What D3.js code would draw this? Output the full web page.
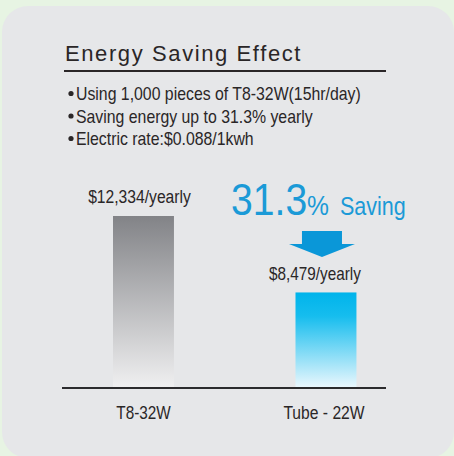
<!DOCTYPE html>
<html>
<head>
<meta charset="utf-8">
<script src="https://cdn.jsdelivr.net/npm/d3@7"></script>
<style>
  html, body { margin: 0; padding: 0; background: #e7f4e3; }
  svg { display: block; }
  text { font-family: "Liberation Sans", Arial, sans-serif; }
</style>
</head>
<body>
<div id="chart"></div>
<script>
// chart data
var categories = ["T8-32W", "Tube - 22W"];
var yearlyCost = [12334, 8479];
var costLabels = ["$12,334/yearly", "$8,479/yearly"];
var bullets = [
  "Using 1,000 pieces of T8-32W(15hr/day)",
  "Saving energy up to 31.3% yearly",
  "Electric rate:$0.088/1kwh"
];
var savingPct = "31.3";

var w = 454, h = 456;
var ink = "#2a2627";

var svg = d3.select("#chart").append("svg")
    .attr("width", w)
    .attr("height", h);

// the artwork uses a condensed face; squeeze a normal one to match
function narrowText(parent, x, y, size, txt, anchor, sx) {
  return parent.append("text")
      .attr("transform", "translate(" + x + "," + y + ") scale(" + (sx || 0.84) + ",1)")
      .attr("font-size", size)
      .attr("text-anchor", anchor || "start")
      .attr("fill", ink)
      .text(txt);
}

// grey panel
svg.append("rect")
    .attr("x", 2).attr("y", 6)
    .attr("width", 452).attr("height", 452)
    .attr("rx", 26).attr("ry", 26)
    .attr("fill", "#e6e7e9");

// gradients for the bars
var defs = svg.append("defs");
var gradColors = [["#828387", "#efeff0"], ["#00b4eb", "#e9f7fd"]];
gradColors.forEach(function (c, i) {
  var g = defs.append("linearGradient")
      .attr("id", "bar" + i)
      .attr("x1", 0).attr("y1", 0).attr("x2", 0).attr("y2", 1);
  g.append("stop").attr("offset", "0%").attr("stop-color", c[0]);
  if (i === 1) g.append("stop").attr("offset", "25%").attr("stop-color", "#16bdee");
  g.append("stop").attr("offset", "100%").attr("stop-color", c[1]);
});

// title
svg.append("text")
    .attr("x", 65).attr("y", 61)
    .attr("font-size", 22)
    .attr("letter-spacing", 1.6)
    .attr("fill", ink)
    .text("Energy Saving Effect");

svg.append("line")
    .attr("x1", 64).attr("x2", 386)
    .attr("y1", 71).attr("y2", 71)
    .attr("stroke", ink)
    .attr("stroke-width", 2);

// bullet lines
var bl = svg.append("g");
bullets.forEach(function (d, i) {
  bl.append("circle")
      .attr("cx", 71)
      .attr("cy", 93.5 + i * 22.5)
      .attr("r", 2.6)
      .attr("fill", ink);
  narrowText(bl, 76, 100 + i * 22.5, 18, d, "start", 0.88);
});

// scales (the artwork is not drawn from zero, so the domain starts above it)
var x = d3.scaleBand()
    .domain(categories)
    .range([58.25, 411.2])
    .paddingInner(0.666)
    .paddingOuter(0.3);

var y = d3.scaleLinear()
    .domain([3711, 12334])
    .range([387, 216]);

// bars
svg.append("g").selectAll("rect")
    .data(yearlyCost)
    .enter().append("rect")
    .attr("x", function (d, i) { return x(categories[i]); })
    .attr("y", function (d) { return y(d); })
    .attr("width", x.bandwidth())
    .attr("height", function (d) { return y.range()[0] - y(d); })
    .attr("fill", function (d, i) { return "url(#bar" + i + ")"; });

// value labels
var labelY = [203, 280];
var labelShift = [-4, -11];
var vl = svg.append("g");
costLabels.forEach(function (d, i) {
  narrowText(vl, x(categories[i]) + x.bandwidth() / 2 + labelShift[i], labelY[i], 18, d, "middle", i === 0 ? 0.87 : 0.85);
});

// baseline
svg.append("line")
    .attr("x1", 62).attr("x2", 386)
    .attr("y1", 388).attr("y2", 388)
    .attr("stroke", "#2b2b2d")
    .attr("stroke-width", 2);

// category labels
var cl = svg.append("g");
categories.forEach(function (d, i) {
  narrowText(cl, x(d) + x.bandwidth() / 2 + (i === 1 ? -2 : 0), 419, 18, d, "middle", i === 1 ? 0.87 : 0.85);
});

// saving callout
var blue = "#1b9ad7";
narrowText(svg, 231, 215, 45, savingPct, "start", 0.87).attr("fill", blue);
narrowText(svg, 307, 215, 28, "%", "start", 0.88).attr("fill", blue);
narrowText(svg, 340, 215, 25, "Saving", "start", 0.86).attr("fill", blue);

// down arrow
var ax = x(categories[1]) + x.bandwidth() / 2 - 4;
svg.append("path")
    .attr("d", "M" + (ax - 20) + ",231 h40 v13 h13 l-33,13 l-33,-13 h13 z")
    .attr("fill", "#0a97d8");
</script>
</body>
</html>
